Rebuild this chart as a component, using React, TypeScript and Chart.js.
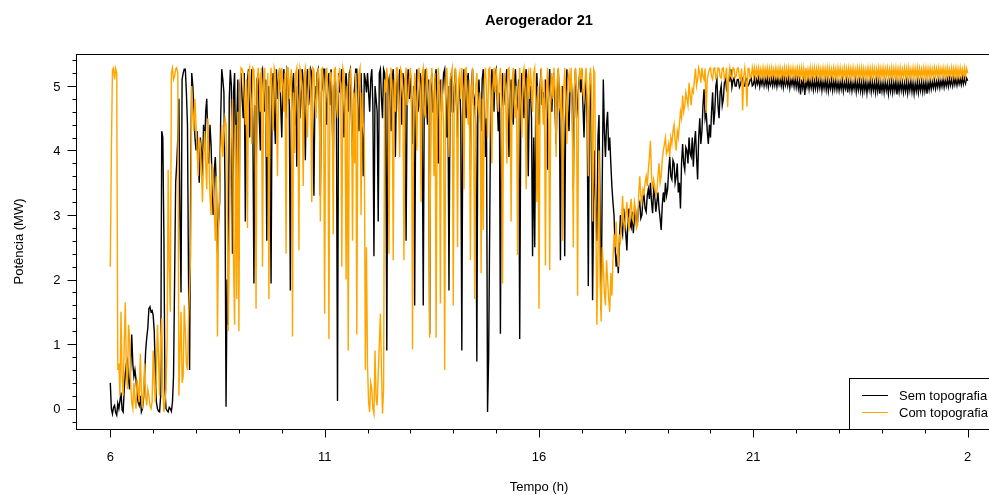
import { useEffect, useRef } from "react";
import { Chart, registerables } from "chart.js";

Chart.register(...registerables);

const TITLE = "Aerogerador 21";
const X_TITLE = "Tempo (h)";
const Y_TITLE = "Potência (MW)";
const SERIES_NAMES = ["Sem topografia", "Com topografia"];
const SERIES_COLORS = ["#000000", "#FFA500"];

// regular sampling of the time series (hours)
const START_HOUR = 6;
const STEP_HOURS = 0.025;

const X_TICKS = [6, 11, 16, 21, 26];
const X_TICK_LABELS = ["6", "11", "16", "21", "2"];
const X_MINOR_STEP = 1;
const Y_TICKS = [0, 1, 2, 3, 4, 5];
const Y_TICK_LABELS = ["0", "1", "2", "3", "4", "5"];
const Y_MINOR_STEP = 0.2;

// Potência (MW), "Sem topografia" — two lines per hour (40 samples per hour)
const SEM_TOPOGRAFIA = [
  // 6h
  0.4, 0.0, -0.08, 0.02, 0.05, -0.06, -0.1, 0.08, 0.0, 0.12, 0.25, -0.02, -0.05, 0.3, 0.55, 0.7, 0.75, 0.45, 0.3, 0.65,
  1.15, 0.7, 0.5, 0.6, 0.45, 0.2, 0.1, 0.05, 0.2, -0.05, 0.0, 0.15, 0.5, 0.9, 1.1, 1.25, 1.55, 1.58, 1.5, 1.52,
  // 7h
  1.45, 1.2, 0.6, 0.1, 0.0, -0.04, -0.05, 0.2, 4.3, 4.2, 2.7, 0.3, 0.0, -0.03, -0.05, 0.02, 0.0, -0.04, 0.1, 0.5,
  2.0, 3.5, 3.8, 4.2, 4.8, 3.0, 1.8, 5.1, 5.2, 5.26, 5.26, 4.9, 4.4, 2.0, 0.6, 3.5, 5.2, 5.0, 4.6, 4.2,
  // 8h
  4.0, 4.3, 3.8, 3.5, 4.2, 4.0, 3.6, 4.4, 4.0, 4.6, 4.8, 4.2, 3.8, 4.4, 4.1, 3.5, 3.0, 3.7, 3.9, 3.4,
  2.4, 2.9, 3.2, 4.5, 5.26, 5.1, 4.9, 3.5, 0.03, 2.0, 1.3, 4.8, 5.25, 5.0, 2.4, 4.9, 5.2, 3.6, 4.4, 5.1,
  // 9h
  2.3, 5.0, 5.2, 4.8, 4.5, 5.2, 2.9, 4.6, 5.1, 5.26, 4.2, 4.9, 5.26, 4.4, 1.94, 4.7, 3.6, 5.1, 5.2, 4.5,
  4.0, 5.2, 5.26, 4.9, 4.6, 5.1, 2.6, 4.8, 5.0, 4.3, 1.94, 5.0, 5.2, 4.6, 4.1, 5.26, 4.8, 5.1, 5.26, 4.7,
  // 10h
  4.2, 5.1, 5.26, 4.9, 4.5, 5.26, 5.2, 4.7, 1.83, 4.6, 5.0, 5.2, 4.4, 5.0, 3.75, 4.8, 5.26, 4.5, 4.8, 5.26,
  5.1, 4.6, 3.85, 5.0, 5.26, 4.7, 4.9, 5.26, 5.2, 4.4, 3.3, 5.0, 4.6, 5.2, 5.26, 4.8, 3.3, 4.9, 5.0, 5.26,
  // 11h
  5.26, 4.8, 4.4, 5.1, 5.2, 4.7, 5.26, 4.5, 3.8, 5.0, 5.1, 4.6, 0.12, 5.2, 4.9, 5.1, 5.26, 4.6, 4.2, 5.0,
  5.2, 4.9, 4.6, 5.2, 5.26, 4.5, 3.9, 4.8, 5.0, 5.26, 5.26, 4.7, 4.3, 5.0, 5.2, 4.6, 3.6, 5.2, 5.1, 4.9,
  // 12h
  5.2, 4.9, 4.6, 5.1, 5.26, 4.7, 2.36, 5.0, 4.8, 4.6, 2.9, 5.2, 5.26, 4.8, 4.5, 5.26, 5.2, 4.9, 0.9, 5.0,
  5.1, 4.7, 4.3, 5.1, 5.26, 4.8, 3.9, 5.0, 5.2, 4.6, 5.26, 4.9, 4.4, 5.2, 5.1, 4.7, 2.6, 5.0, 5.26, 4.8,
  // 13h
  5.2, 4.8, 4.1, 5.0, 1.6, 4.9, 5.26, 4.6, 4.7, 5.2, 5.1, 4.5, 1.6, 5.0, 5.26, 4.7, 4.4, 5.1, 1.16, 4.9,
  5.2, 4.6, 4.6, 5.1, 5.26, 4.7, 3.8, 5.0, 5.1, 4.6, 4.9, 5.2, 5.26, 4.8, 4.2, 5.0, 1.83, 4.9, 5.2, 4.6,
  // 14h
  4.6, 5.0, 5.26, 4.7, 4.2, 4.9, 5.1, 4.5, 0.9, 5.0, 5.26, 4.8, 4.5, 5.1, 5.2, 4.6, 3.7, 5.0, 5.26, 4.7,
  4.8, 4.4, 0.73, 4.9, 5.1, 4.6, 4.3, 5.1, 5.26, 4.8, 3.9, 4.5, -0.05, 0.8, 2.8, 4.9, 5.26, 5.0, 4.6, 5.2,
  // 15h
  5.26, 4.8, 4.3, 4.9, 1.16, 4.6, 5.2, 4.7, 4.9, 5.1, 5.26, 4.6, 3.9, 4.8, 5.1, 4.5, 4.4, 5.0, 5.26, 4.8,
  4.7, 5.1, 1.08, 4.6, 5.2, 4.9, 4.5, 5.0, 5.26, 4.7, 3.6, 4.9, 5.0, 4.5, 2.36, 4.2, 2.5, 4.8, 5.2, 4.6,
  // 16h
  4.4, 5.0, 5.26, 4.7, 4.9, 4.5, 5.1, 4.8, 3.7, 5.0, 5.26, 4.7, 4.6, 5.1, 5.2, 4.6, 4.1, 4.9, 5.26, 4.8,
  2.3, 4.6, 5.0, 4.4, 2.36, 4.9, 5.26, 4.6, 4.3, 5.0, 5.1, 4.8, 3.4, 4.9, 5.26, 4.5, 4.7, 5.0, 5.2, 4.9,
  // 17h
  5.26, 4.7, 4.2, 4.9, 5.1, 4.4, 1.9, 4.6, 5.2, 3.8, 1.68, 3.2, 4.0, 3.1, 2.6, 4.2, 4.55, 3.0, 1.52, 3.5,
  5.1, 4.3, 3.9, 4.4, 4.6, 4.0, 4.2, 3.8, 3.45, 3.2, 3.0, 2.5, 2.2, 2.4, 2.1, 2.6, 3.0, 2.8, 2.7, 3.1,
  // 18h
  2.9, 2.7, 2.45, 2.95, 3.1, 2.85, 2.8, 3.05, 2.72, 2.95, 3.1, 2.85, 2.9, 3.15, 3.2, 2.95, 3.0, 3.25, 3.3, 3.1,
  3.05, 3.3, 3.4, 3.25, 3.5, 3.2, 3.03, 3.4, 3.3, 3.05, 3.2, 3.35, 3.1, 2.95, 2.77, 3.15, 3.35, 3.2, 3.5, 3.3,
  // 19h
  3.4, 3.7, 3.9, 3.6, 3.55, 3.85, 3.8, 3.5, 3.6, 3.8, 3.35, 3.5, 3.1, 3.8, 4.1, 3.8, 3.7, 4.05, 4.0, 3.8,
  4.2, 3.95, 3.9, 4.2, 3.75, 4.1, 4.3, 3.9, 3.55, 4.2, 4.5, 4.1, 4.3, 4.7, 4.95, 4.5, 4.6, 4.3, 4.1, 4.4,
  // 20h
  4.2, 4.6, 4.9, 4.4, 4.6, 5.0, 5.1, 4.7, 4.5, 4.9, 5.0, 4.7, 4.8, 5.05, 5.12, 4.95, 5.0, 5.1, 5.08, 5.26,
  4.98, 5.08, 5.12, 5.0, 5.0, 5.1, 5.1, 4.98, 5.02, 5.1, 5.12, 5.0, 5.0, 5.12, 5.1, 5.0, 5.03, 5.1, 5.12, 5.0,
  // 21h
  5.02, 5.12, 5.0, 5.1, 5.03, 5.13, 4.99, 5.1, 5.02, 5.12, 5.0, 5.11, 5.01, 5.12, 4.98, 5.1, 5.02, 5.11, 5.0, 5.12,
  5.01, 5.11, 4.99, 5.12, 5.02, 5.1, 5.0, 5.13, 4.98, 5.11, 5.01, 5.1, 5.0, 5.12, 4.97, 5.1, 5.01, 5.11, 4.99, 5.12,
  // 22h
  4.98, 5.1, 4.96, 5.08, 4.87, 5.1, 4.97, 5.09, 4.86, 5.07, 4.98, 5.1, 4.95, 5.08, 4.97, 5.09, 4.94, 5.07, 4.96, 5.1,
  4.95, 5.08, 4.97, 5.1, 4.93, 5.07, 4.96, 5.09, 4.94, 5.08, 4.92, 5.06, 4.96, 5.09, 4.93, 5.07, 4.95, 5.08, 4.94, 5.06,
  // 23h
  4.93, 5.06, 4.95, 5.08, 4.92, 5.05, 4.96, 5.08, 4.9, 5.06, 4.94, 5.07, 4.92, 5.05, 4.95, 5.08, 4.91, 5.06, 4.94, 5.07,
  4.92, 5.05, 4.9, 5.07, 4.93, 5.06, 4.89, 5.05, 4.94, 5.08, 4.91, 5.06, 4.93, 5.05, 4.9, 5.07, 4.92, 5.06, 4.88, 5.05,
  // 24h
  4.92, 5.05, 4.9, 5.06, 4.93, 5.04, 4.88, 5.05, 4.92, 5.06, 4.9, 5.05, 4.93, 5.07, 4.87, 5.05, 4.91, 5.06, 4.93, 5.05,
  4.9, 5.04, 4.92, 5.06, 4.89, 5.05, 4.93, 5.07, 4.91, 5.05, 4.88, 5.04, 4.92, 5.06, 4.9, 5.05, 4.93, 5.06, 4.91, 5.05,
  // 25h
  4.92, 5.06, 4.88, 5.05, 4.94, 5.07, 4.95, 5.06, 4.97, 5.08, 4.96, 5.07, 4.98, 5.09, 4.97, 5.08, 4.99, 5.1, 4.98, 5.09,
  5.0, 5.1, 4.99, 5.11, 5.01, 5.1, 5.0, 5.12, 5.02, 5.11, 5.01, 5.12, 5.03, 5.11, 5.02, 5.13, 5.03, 5.12, 5.04, 5.12,
  // 26h
  5.08,
];

// Potência (MW), "Com topografia" — two lines per hour (40 samples per hour)
const COM_TOPOGRAFIA = [
  // 6h
  2.2, 3.96, 5.25, 5.28, 5.1, 5.27, 5.2, 0.6, 0.7, 0.2, 1.5, 0.5, 0.2, 1.0, 1.65, 0.6, 0.3, 1.3, 1.1, 0.4,
  0.1, 0.0, 0.4, 0.15, 0.0, 0.45, 0.3, 0.1, 0.85, 0.3, 0.0, 0.25, 0.7, 0.2, 0.05, 0.3, 0.2, 0.05, 0.0, 0.1,
  // 7h
  0.9, 0.4, 0.1, 0.6, 1.3, 0.8, 0.2, 1.1, 1.4, 0.3, -0.05, 0.1, 0.3, 1.0, 3.7, 2.2, 1.5, 5.2, 5.28, 5.1,
  5.15, 5.26, 5.28, 5.2, 0.2, 0.9, 1.5, 0.4, 0.5, 1.6, 1.2, 0.7, 0.6, 1.4, 1.9, 2.4, 5.0, 4.6, 4.3, 4.8,
  // 8h
  4.4, 4.0, 3.6, 4.2, 4.1, 3.7, 3.2, 3.9, 4.3, 3.8, 3.4, 4.5, 3.9, 3.3, 3.0, 3.8, 3.5, 3.1, 2.6, 3.6,
  1.12, 2.8, 3.4, 4.0, 4.4, 3.9, 4.2, 4.5, 4.4, 3.8, 1.2, 2.6, 3.6, 4.3, 4.8, 2.2, 1.3, 4.4, 1.7, 4.6,
  // 9h
  1.2, 4.9, 5.28, 5.26, 5.2, 4.8, 4.4, 5.1, 2.8, 5.2, 5.28, 4.7, 4.1, 5.28, 5.25, 4.8, 1.55, 5.0, 5.28, 5.1,
  4.6, 5.28, 2.2, 5.0, 5.28, 4.6, 3.9, 5.2, 1.7, 5.0, 5.28, 4.9, 4.3, 5.28, 5.2, 4.7, 3.6, 5.1, 5.28, 4.9,
  // 10h
  5.28, 5.0, 4.6, 5.2, 2.4, 5.28, 5.28, 4.8, 5.1, 5.26, 1.12, 4.9, 3.96, 5.2, 5.28, 4.7, 2.45, 5.28, 5.2, 4.9,
  3.45, 5.2, 5.28, 4.6, 4.2, 5.1, 5.28, 4.9, 3.2, 5.28, 5.25, 4.8, 4.5, 5.1, 5.28, 5.0, 2.9, 5.26, 5.28, 4.8,
  // 11h
  1.47, 5.1, 5.28, 4.8, 1.08, 5.2, 5.2, 4.9, 2.7, 5.26, 5.28, 4.7, 4.5, 5.1, 5.28, 4.9, 2.2, 5.28, 5.2, 4.6,
  2.0, 5.0, 0.9, 4.8, 5.28, 5.0, 2.6, 4.9, 3.8, 5.2, 1.15, 4.7, 5.2, 5.28, 3.0, 4.9, 4.4, 4.2, 0.6, 2.5,
  // 12h
  0.67, 0.1, -0.05, 0.4, 0.3, 0.0, -0.08, 0.9, 0.15, 0.05, 0.55, 1.0, 1.47, 0.6, -0.08, 0.3, 5.1, 4.9, 5.28, 5.0,
  2.4, 4.8, 5.28, 4.9, 2.3, 5.1, 4.6, 5.28, 5.28, 4.7, 3.9, 5.26, 5.2, 4.9, 2.3, 5.1, 5.28, 4.7, 4.8, 5.1,
  // 13h
  5.28, 5.0, 0.92, 4.8, 5.2, 4.7, 4.0, 5.1, 5.28, 4.9, 3.2, 5.2, 5.28, 4.6, 4.5, 5.28, 5.1, 4.8, 1.1, 5.0,
  5.28, 4.9, 3.6, 5.2, 1.1, 4.7, 5.28, 5.0, 1.63, 5.1, 4.8, 4.4, 0.6, 5.0, 5.28, 4.8, 3.9, 5.1, 5.2, 5.28,
  // 14h
  1.6, 4.9, 5.28, 5.0, 2.5, 5.1, 5.2, 4.8, 5.28, 4.9, 3.4, 5.26, 5.28, 4.7, 4.4, 5.1, 2.3, 4.9, 5.28, 4.6,
  1.7, 5.0, 5.2, 4.7, 4.6, 4.9, 2.1, 4.8, 2.77, 5.1, 5.28, 4.9, 4.2, 5.26, 5.28, 4.7, 3.8, 5.0, 5.28, 4.9,
  // 15h
  5.28, 4.9, 4.6, 5.1, 5.28, 4.8, 1.94, 5.0, 5.2, 4.7, 3.8, 5.26, 5.28, 4.9, 2.9, 5.1, 5.28, 4.7, 4.5, 5.0,
  2.38, 4.9, 5.28, 4.8, 4.2, 5.2, 5.28, 4.9, 3.4, 5.1, 5.2, 4.8, 5.28, 5.0, 4.6, 5.2, 5.28, 4.7, 3.2, 5.0,
  // 16h
  1.55, 4.8, 5.28, 4.9, 4.4, 5.1, 2.22, 4.9, 5.28, 4.7, 2.15, 5.0, 5.2, 4.8, 5.28, 4.9, 3.9, 5.1, 5.28, 4.7,
  4.6, 5.0, 2.6, 4.9, 5.28, 4.8, 4.1, 5.1, 5.2, 4.9, 5.28, 4.6, 2.5, 5.0, 5.28, 4.8, 1.75, 4.9, 5.28, 5.1,
  // 17h
  5.28, 4.9, 4.8, 5.1, 5.28, 4.7, 3.6, 5.0, 5.28, 4.8, 2.9, 5.26, 5.2, 3.0, 1.3, 2.4, 4.0, 2.0, 1.35, 2.5,
  2.2, 1.8, 1.6, 2.3, 2.0, 1.7, 1.5, 2.1, 1.75, 2.3, 2.7, 2.5, 2.9, 2.4, 2.2, 2.7, 2.6, 2.9, 3.3, 2.9,
  // 18h
  2.8, 3.0, 3.2, 2.9, 2.75, 3.1, 3.25, 2.95, 2.9, 3.2, 3.1, 2.8, 2.85, 3.3, 3.6, 3.3, 3.2, 3.4, 3.35, 3.5,
  3.6, 3.45, 3.7, 3.9, 4.15, 3.6, 3.4, 3.55, 3.45, 3.3, 3.35, 3.6, 3.8, 3.5, 3.6, 3.85, 4.0, 4.1, 4.2, 3.95,
  // 19h
  4.0, 4.1, 3.9, 4.2, 4.1, 4.3, 4.4, 4.15, 4.0, 4.3, 4.2, 4.4, 4.6, 4.5, 4.85, 4.6, 4.7, 4.9, 4.8, 4.7,
  5.05, 4.85, 4.7, 4.95, 4.9, 5.1, 5.27, 5.0, 5.1, 5.28, 5.2, 5.05, 5.28, 5.15, 5.1, 5.27, 4.58, 5.1, 5.2, 5.26,
  // 20h
  5.28, 5.15, 5.1, 5.27, 5.28, 5.12, 5.15, 5.28, 5.27, 5.14, 5.12, 5.27, 5.28, 5.1, 5.15, 5.28, 4.67, 5.13, 5.28, 5.15,
  5.12, 5.28, 5.27, 5.13, 5.15, 5.27, 5.28, 5.12, 5.1, 5.27, 4.62, 5.14, 5.28, 5.13, 4.68, 5.27, 5.27, 5.12, 5.15, 5.28,
  // 21h
  5.15, 5.28, 5.13, 5.27, 5.16, 5.28, 5.14, 5.26, 5.15, 5.28, 5.12, 5.27, 5.16, 5.28, 5.14, 5.27, 5.13, 5.28, 5.15, 5.26,
  5.14, 5.28, 5.16, 5.27, 5.13, 5.28, 5.15, 5.26, 5.14, 5.28, 5.12, 5.27, 5.15, 5.28, 5.13, 5.27, 5.16, 5.28, 5.14, 5.26,
  // 22h
  5.14, 5.28, 5.15, 5.27, 5.12, 5.28, 5.14, 5.27, 5.05, 5.28, 5.13, 5.26, 5.15, 5.28, 5.12, 5.27, 5.14, 5.28, 5.13, 5.27,
  5.15, 5.28, 5.12, 5.26, 5.14, 5.28, 5.13, 5.27, 5.15, 5.28, 5.12, 5.27, 5.14, 5.26, 5.13, 5.28, 5.15, 5.27, 5.12, 5.28,
  // 23h
  5.15, 5.28, 5.13, 5.26, 5.14, 5.28, 5.12, 5.27, 5.15, 5.28, 5.13, 5.27, 5.14, 5.28, 5.12, 5.26, 5.15, 5.28, 5.13, 5.27,
  5.14, 5.28, 5.12, 5.27, 5.15, 5.26, 5.13, 5.28, 5.14, 5.27, 5.12, 5.28, 5.15, 5.27, 5.13, 5.26, 5.14, 5.28, 5.12, 5.27,
  // 24h
  5.14, 5.28, 5.12, 5.27, 5.15, 5.28, 5.13, 5.26, 5.14, 5.28, 5.12, 5.27, 5.15, 5.28, 5.13, 5.27, 5.14, 5.28, 5.12, 5.26,
  5.15, 5.28, 5.13, 5.27, 5.12, 5.28, 5.14, 5.26, 5.15, 5.28, 5.13, 5.27, 5.14, 5.28, 5.12, 5.27, 5.15, 5.26, 5.13, 5.28,
  // 25h
  5.15, 5.28, 5.13, 5.27, 5.14, 5.28, 5.15, 5.26, 5.13, 5.28, 5.16, 5.27, 5.14, 5.28, 5.15, 5.27, 5.16, 5.28, 5.15, 5.27,
  5.14, 5.28, 5.16, 5.26, 5.15, 5.28, 5.13, 5.27, 5.16, 5.28, 5.14, 5.27, 5.15, 5.28, 5.16, 5.26, 5.15, 5.28, 5.14, 5.27,
  // 26h
  5.2,
];

const FONT_FAMILY = '"Liberation Sans", Arial, Helvetica, sans-serif';
const LINE_WIDTH = 1.4;

const rPlotPlugin = {
  id: "rPlot",
  afterDraw(chart: any) {
    const { ctx, chartArea: a } = chart;
    const xs = chart.scales.x;
    const ys = chart.scales.y;
    ctx.save();
    ctx.strokeStyle = "#000";
    ctx.fillStyle = "#000";
    ctx.lineWidth = 1;

    const L = Math.round(a.left) + 0.5;
    const T = Math.round(a.top) + 0.5;
    const R = Math.round(a.right) + 0.5;
    const B = Math.round(a.bottom) + 0.5;

    // box
    ctx.strokeRect(L, T, R - L, B - T);

    // tick marks
    const majorLen = 8;
    const minorLen = 4;
    ctx.beginPath();
    for (let h = X_TICKS[0]; h <= X_TICKS[X_TICKS.length - 1] + 1e-9; h += X_MINOR_STEP) {
      if (h < xs.min || h > xs.max) continue;
      const px = Math.round(xs.getPixelForValue(h)) + 0.5;
      const major = X_TICKS.some((t) => Math.abs(t - h) < 1e-6);
      ctx.moveTo(px, B);
      ctx.lineTo(px, B + (major ? majorLen : minorLen));
    }
    const yStep = Y_TICKS[1] - Y_TICKS[0];
    const yStart = Y_TICKS[0] - yStep;
    const yEnd = Y_TICKS[Y_TICKS.length - 1] + yStep;
    for (let k = 0; yStart + k * Y_MINOR_STEP <= yEnd + 1e-9; k++) {
      const v = yStart + k * Y_MINOR_STEP;
      if (v < ys.min || v > ys.max) continue;
      const py = Math.round(ys.getPixelForValue(v)) + 0.5;
      const major = Y_TICKS.some((t) => Math.abs(t - v) < 1e-6);
      ctx.moveTo(L, py);
      ctx.lineTo(L - (major ? majorLen + 1 : minorLen), py);
    }
    ctx.stroke();

    // tick labels
    ctx.font = `13px ${FONT_FAMILY}`;
    ctx.textBaseline = "alphabetic";
    ctx.textAlign = "center";
    X_TICKS.forEach((t, i) => {
      ctx.fillText(X_TICK_LABELS[i], xs.getPixelForValue(t), a.bottom + 32);
    });
    ctx.textAlign = "right";
    Y_TICKS.forEach((t, i) => {
      ctx.fillText(Y_TICK_LABELS[i], a.left - 15.5, ys.getPixelForValue(t) + 4.7);
    });

    // axis titles
    ctx.textAlign = "center";
    const cx = (a.left + a.right) / 2;
    ctx.fillText(X_TITLE, cx, a.bottom + 62);
    ctx.save();
    ctx.translate(22.6, (a.top + a.bottom) / 2);
    ctx.rotate(-Math.PI / 2);
    ctx.fillText(Y_TITLE, 0, 0);
    ctx.restore();

    // main title
    ctx.font = `bold 14.6px ${FONT_FAMILY}`;
    ctx.fillText(TITLE, cx, 25);

    // legend (bottom right, inside the plot region)
    const boxL = Math.round(a.right - 153) + 0.5;
    const boxT = Math.round(a.bottom - 51) + 0.5;
    ctx.fillStyle = "#fff";
    ctx.fillRect(boxL, boxT, R - boxL, B - boxT);
    ctx.strokeStyle = "#000";
    ctx.strokeRect(boxL, boxT, R - boxL, B - boxT);
    ctx.font = `13px ${FONT_FAMILY}`;
    ctx.textAlign = "left";
    SERIES_NAMES.forEach((name, i) => {
      const ly = Math.round(a.bottom - 34 + i * 17) + 0.5;
      ctx.strokeStyle = SERIES_COLORS[i];
      ctx.beginPath();
      ctx.moveTo(boxL + 12.5, ly);
      ctx.lineTo(boxL + 38.5, ly);
      ctx.stroke();
      ctx.fillStyle = "#000";
      ctx.fillText(name, boxL + 49.5, ly + 4.5);
    });
    ctx.restore();
  },
};

export default function App() {
  const ref = useRef<HTMLCanvasElement | null>(null);

  useEffect(() => {
    const canvas = ref.current;
    if (!canvas) return;
    const toPoints = (vals: number[]) =>
      vals.map((v, i) => ({ x: START_HOUR + i * STEP_HOURS, y: v }));
    const chart = new Chart(canvas, {
      type: "line",
      data: {
        datasets: [
          {
            label: SERIES_NAMES[0],
            data: toPoints(SEM_TOPOGRAFIA),
            borderColor: SERIES_COLORS[0],
            borderWidth: LINE_WIDTH,
            pointRadius: 0,
            tension: 0,
            fill: false,
            order: 2,
          },
          {
            label: SERIES_NAMES[1],
            data: toPoints(COM_TOPOGRAFIA),
            borderColor: SERIES_COLORS[1],
            borderWidth: LINE_WIDTH,
            pointRadius: 0,
            tension: 0,
            fill: false,
            order: 1,
          },
        ],
      },
      options: {
        responsive: false,
        animation: false,
        devicePixelRatio: 1,
        events: [],
        layout: { padding: { top: 54, right: 38, left: 0, bottom: 0 } },
        plugins: {
          legend: { display: false },
          title: { display: false },
          tooltip: { enabled: false },
        },
        scales: {
          x: {
            type: "linear",
            min: 5.2,
            max: 26.8,
            grid: { display: false },
            border: { display: false },
            ticks: { display: false },
            afterFit: (s: any) => {
              s.height = 66;
            },
          },
          y: {
            type: "linear",
            min: -0.315,
            max: 5.495,
            grid: { display: false },
            border: { display: false },
            ticks: { display: false },
            afterFit: (s: any) => {
              s.width = 76;
            },
          },
        },
      } as any,
      plugins: [rPlotPlugin],
    });
    return () => chart.destroy();
  }, []);

  return (
    <div
      style={{
        position: "fixed",
        left: 0,
        top: 0,
        width: 989,
        height: 495,
        overflow: "hidden",
        background: "#fff",
      }}
    >
      <canvas
        ref={ref}
        width={1040}
        height={495}
        style={{ display: "block", width: 1040, height: 495 }}
      />
    </div>
  );
}
